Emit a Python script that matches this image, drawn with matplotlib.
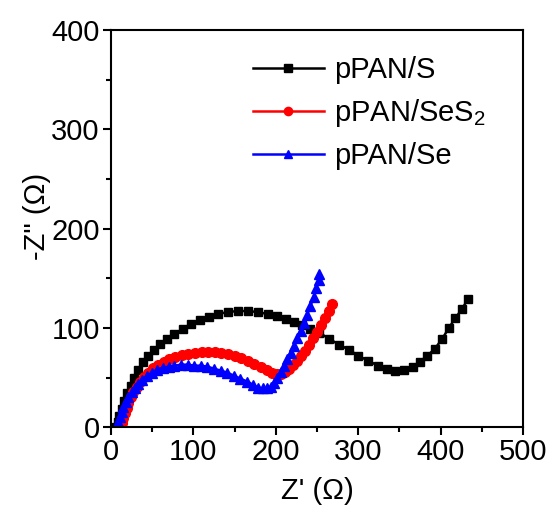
import matplotlib

matplotlib.use("Agg")
import matplotlib.pyplot as plt

plt.rcParams["font.family"] = ["Liberation Sans", "DejaVu Sans"]
plt.rcParams["mathtext.default"] = "regular"

# Nyquist data (Z', -Z'')
s_x = [6, 8, 10, 13, 16, 20, 24, 28, 33, 39, 45, 52, 60, 68, 77, 87, 97, 108, 119, 130,
       142, 154, 166, 178, 190, 201, 212, 222, 232, 242, 253, 265, 277, 289, 300, 312, 324,
       335, 345, 356, 366, 375, 384, 393, 402, 410, 418, 426, 433]
s_y = [0, 5, 11, 18, 26, 34, 42, 50, 58, 66, 72, 78, 84, 89, 94, 99, 104, 108, 111, 114,
       116, 117, 117, 116, 114, 112, 109, 106, 103, 99, 95, 89, 83, 78, 72, 67, 62,
       59, 57, 58, 61, 66, 72, 79, 89, 100, 110, 119, 129]

ses2_x = [11, 13, 15, 17, 19, 21, 24, 27, 31, 35, 40, 45, 51, 57, 64, 71, 78, 86, 94, 102,
          110, 118, 126, 134, 142, 150, 158, 166, 174, 182, 189, 195, 201, 206, 211, 216,
          221, 226, 230, 235, 240, 245, 250, 255, 260, 264, 268]
ses2_y = [0, 4, 9, 14, 19, 24, 30, 35, 41, 46, 51, 55, 60, 63, 66, 69, 71, 73, 74, 75,
          76, 76, 76, 75, 74, 72, 70, 67, 64, 61, 58, 55, 54, 54, 56, 59,
          63, 67, 72, 77, 83, 90, 96, 103, 110, 117, 124]

se_x = [7, 9, 11, 13, 15, 18, 21, 25, 29, 33, 38, 44, 50, 56, 63, 70, 77, 85, 93, 101,
        109, 117, 125, 133, 141, 149, 157, 165, 172, 178, 184, 189, 194, 198, 202, 206,
        210, 214, 218, 222, 226, 230, 234, 238, 242, 246, 249, 252, 253]
se_y = [0, 5, 10, 15, 20, 25, 30, 35, 40, 44, 48, 52, 55, 58, 60, 61, 62, 63, 63, 62,
        62, 61, 59, 57, 55, 52, 49, 46, 43, 40, 39, 39, 41, 45, 50, 56,
        62, 69, 75, 82, 90, 97, 105, 113, 122, 131, 140, 148, 154]

fig = plt.figure(figsize=(5.52, 5.08), dpi=100)
ax = fig.add_axes([0.201, 0.159, 0.7465, 0.782])

ax.plot(s_x, s_y, color="black", marker="s", markersize=6, linewidth=1.8, label="pPAN/S")
ax.plot(ses2_x, ses2_y, color="red", marker="o", markersize=7, linewidth=1.8, label="pPAN/SeS$_2$")
ax.plot(se_x, se_y, color="blue", marker="^", markersize=7, linewidth=1.8, label="pPAN/Se")

ax.set_xlim(0, 500)
ax.set_ylim(0, 400)
ax.set_xticks([0, 100, 200, 300, 400, 500])
ax.set_yticks([0, 100, 200, 300, 400])
ax.set_xticks([50, 150, 250, 350, 450], minor=True)
ax.set_yticks([50, 150, 250, 350], minor=True)
ax.tick_params(which="major", direction="out", length=6, width=1.5, labelsize=21, pad=2)
ax.tick_params(which="minor", direction="out", length=3.5, width=1.5)
for spine in ax.spines.values():
    spine.set_linewidth(1.5)

ax.set_xlabel("Z' (Ω)", fontsize=21, labelpad=8)
ax.set_ylabel('-Z" (Ω)', fontsize=21, labelpad=0)
ax.yaxis.label.set_y(0.53)

leg = ax.legend(loc="upper left", bbox_to_anchor=(0.28, 1.0), frameon=False, fontsize=21,
                handlelength=2.45, handletextpad=0.35, labelspacing=0.45, numpoints=1,
                markerscale=0.85)

fig.savefig("out.png", dpi=100)
